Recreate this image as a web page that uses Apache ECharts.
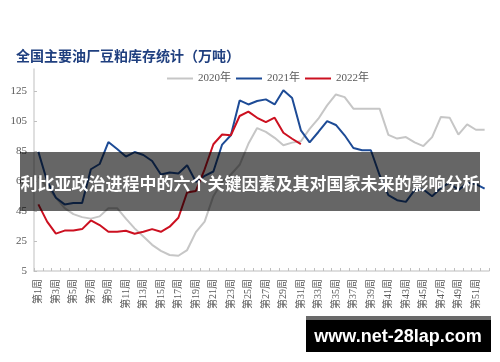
<!DOCTYPE html>
<html>
<head>
<meta charset="utf-8">
<script src="https://cdn.jsdelivr.net/npm/echarts@6/dist/echarts.min.js"></script>
<style>
html,body{margin:0;padding:0;background:#fff;}
#chart{width:500px;height:362px;}
</style>
</head>
<body>
<div id="chart"></div>
<script>
var weeks = ['第1周','第2周','第3周','第4周','第5周','第6周','第7周','第8周','第9周','第10周',
  '第11周','第12周','第13周','第14周','第15周','第16周','第17周','第18周','第19周','第20周',
  '第21周','第22周','第23周','第24周','第25周','第26周','第27周','第28周','第29周','第30周',
  '第31周','第32周','第33周','第34周','第35周','第36周','第37周','第38周','第39周','第40周',
  '第41周','第42周','第43周','第44周','第45周','第46周','第47周','第48周','第49周','第50周',
  '第51周','第52周'];

var y2020 = [68, 61, 54, 47, 43, 41, 40, 41.5, 47, 47,
  40, 33.5, 28, 22.5, 18.5, 15.7, 15.2, 19, 31, 38,
  55, 64.6, 69.5, 76, 90, 100.5, 98, 94, 89, 90.8,
  91.7, 100, 106.8, 115.7, 123, 121.2, 113.5, 113.5, 113.5, 113.5,
  96, 93.5, 94.5, 91, 88.5, 94.5, 108, 107.5, 96.2, 103,
  99.4, 99.4];

var y2021 = [84.6, 65, 54, 49.5, 50.5, 50.5, 73, 76.5, 91.2, 86.5,
  81.5, 84.5, 82.5, 78.5, 69.5, 70.8, 70.1, 75.7, 64.6, 68.6,
  71.5, 89.5, 95.7, 119, 116.3, 118.6, 119.7, 116.3, 125.8, 120.6,
  99, 91, 97.9, 105.2, 102.6, 95.7, 87.2, 85.7, 85.7, 69,
  55.7, 52.3, 51.2, 59, 59.5, 55, 60.5, 64, 59, 64,
  63, 60];

var y2022 = [49.5, 38, 30, 32, 32, 33, 38.8, 35.7, 31.2, 31.2,
  31.9, 29.9, 31.2, 33, 31.2, 34.6, 40.6, 57.5, 58.5, 73,
  89.7, 96.2, 95.7, 108.6, 111.5, 107.4, 104.5, 107.5, 97.4, 93.4,
  89.8];

var seriesNames = ['2020年', '2021年', '2022年'];
var yTicks = [5, 25, 45, 65, 85, 105, 125];

var titleText = '全国主要油厂豆粕库存统计（万吨）';
var bannerText = '利比亚政治进程中的六个关键因素及其对国家未来的影响分析';
var watermarkText = 'www.net-28lap.com';

var serif = '"Liberation Serif", "Noto Sans CJK SC", serif';
var chart = echarts.init(document.getElementById('chart'), null, {renderer: 'canvas'});

chart.setOption({
  animation: false,
  backgroundColor: '#ffffff',
  title: {
    text: titleText,
    left: 11,
    top: 44,
    textStyle: {fontSize: 14, fontWeight: 'bold', color: '#1f3f7f', fontFamily: '"Noto Sans CJK SC", sans-serif'}
  },
  legend: {
    data: seriesNames,
    left: 162,
    top: 68,
    icon: 'rect',
    itemWidth: 26,
    itemHeight: 2,
    itemGap: 5,
    textStyle: {fontSize: 11, color: '#595959', fontFamily: serif}
  },
  grid: {left: 34, right: 11, top: 69, bottom: 91, containLabel: false},
  xAxis: {
    type: 'category',
    data: weeks,
    boundaryGap: true,
    axisLine: {show: true, lineStyle: {color: '#d4d4d4', width: 1.5}},
    axisTick: {show: true, inside: true, length: 3, interval: 0, lineStyle: {color: '#bfbfbf'}},
    axisLabel: {rotate: 90, interval: 1, fontSize: 10, color: '#595959', fontFamily: serif, margin: 8},
    splitLine: {show: false}
  },
  yAxis: {
    type: 'value',
    min: yTicks[0],
    max: 140,
    interval: 20,
    axisLine: {show: true, lineStyle: {color: '#d4d4d4', width: 1.5}},
    axisTick: {show: true, inside: true, length: 3, lineStyle: {color: '#bfbfbf'}},
    axisLabel: {showMaxLabel: false, fontSize: 11, color: '#595959', fontFamily: serif, margin: 7},
    splitLine: {show: false}
  },
  series: [
    {name: seriesNames[0], type: 'line', data: y2020, symbol: 'none', lineStyle: {color: '#c6c6c6', width: 2}, itemStyle: {color: '#c6c6c6'}, z: 2},
    {name: seriesNames[1], type: 'line', data: y2021, symbol: 'none', lineStyle: {color: '#1d4b96', width: 2}, itemStyle: {color: '#1d4b96'}, z: 3},
    {name: seriesNames[2], type: 'line', data: y2022, symbol: 'none', lineStyle: {color: '#cc1020', width: 2}, itemStyle: {color: '#cc1020'}, z: 4}
  ],
  graphic: [
    {type: 'rect', left: 20, top: 152, z: 100, shape: {width: 460, height: 59}, style: {fill: 'rgba(0,0,0,0.6)'}},
    {type: 'text', x: 250, y: 184, z: 101, style: {text: bannerText, fill: '#ffffff', font: 'bold 17px "Noto Sans CJK SC", sans-serif', textAlign: 'center', textVerticalAlign: 'middle'}},
    {type: 'rect', left: 306, top: 316, z: 100, shape: {width: 185, height: 36}, style: {fill: '#6a6a6a'}},
    {type: 'rect', left: 306, top: 320, z: 100, shape: {width: 185, height: 32}, style: {fill: '#000000'}},
    {type: 'text', x: 398, y: 337, z: 101, style: {text: watermarkText, fill: '#ffffff', font: 'bold 18px "Liberation Sans", Arial, sans-serif', textAlign: 'center', textVerticalAlign: 'middle'}}
  ]
});
</script>
</body>
</html>
